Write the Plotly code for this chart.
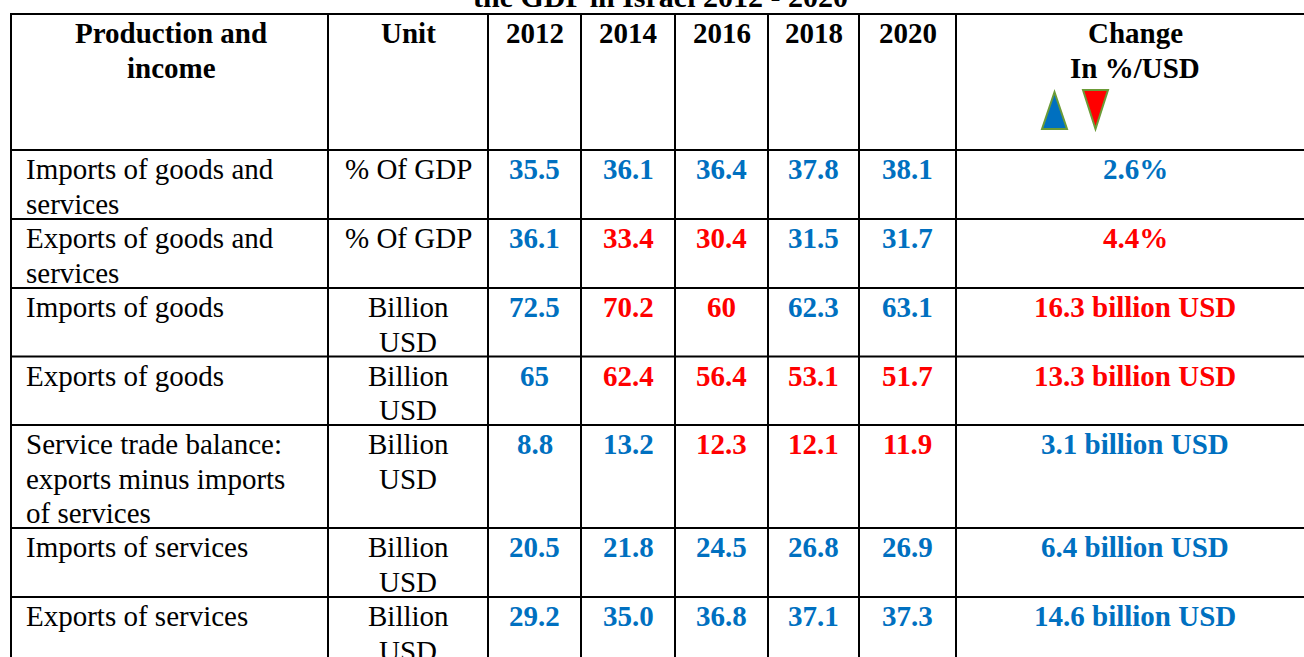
import plotly.graph_objects as go

# ---------------- data ----------------
title_text = "the GDP in Israel 2012 - 2020"
header_first = ["Production and", "income"]
header_unit = ["Unit"]
header_change = ["Change", "In %/USD"]
years = ["2012", "2014", "2016", "2018", "2020"]

row_labels = [
    ["Imports of goods and", "services"],
    ["Exports of goods and", "services"],
    ["Imports of goods"],
    ["Exports of goods"],
    ["Service trade balance:", "exports minus imports", "of services"],
    ["Imports of services"],
    ["Exports of services"],
]
units = [
    ["% Of GDP"], ["% Of GDP"], ["Billion", "USD"], ["Billion", "USD"],
    ["Billion", "USD"], ["Billion", "USD"], ["Billion", "USD"],
]
values_2012 = ["35.5", "36.1", "72.5", "65", "8.8", "20.5", "29.2"]
values_2014 = ["36.1", "33.4", "70.2", "62.4", "13.2", "21.8", "35.0"]
values_2016 = ["36.4", "30.4", "60", "56.4", "12.3", "24.5", "36.8"]
values_2018 = ["37.8", "31.5", "62.3", "53.1", "12.1", "26.8", "37.1"]
values_2020 = ["38.1", "31.7", "63.1", "51.7", "11.9", "26.9", "37.3"]
# direction: 1 = up (blue), -1 = down (red)
dir_2012 = [1, 1, 1, 1, 1, 1, 1]
dir_2014 = [1, -1, -1, -1, 1, 1, 1]
dir_2016 = [1, -1, -1, -1, -1, 1, 1]
dir_2018 = [1, 1, 1, -1, -1, 1, 1]
dir_2020 = [1, 1, 1, -1, -1, 1, 1]
change_text = ["2.6%", "4.4%", "16.3 billion USD", "13.3 billion USD",
               "3.1 billion USD", "6.4 billion USD", "14.6 billion USD"]
change_dir = [1, -1, -1, -1, 1, 1, 1]

year_values = [values_2012, values_2014, values_2016, values_2018, values_2020]
year_dirs = [dir_2012, dir_2014, dir_2016, dir_2018, dir_2020]

# ---------------- layout constants ----------------
W, H = 1304, 657
col_x = [11, 328, 488, 581, 675, 768, 859, 956, 1316]
row_y = [14, 150, 219, 288, 356.5, 425, 528, 597, 666]
LINE_H = 34.5
FIRST_OFF = 19
FONT = "Liberation Serif"
FS = 29
BLUE = "#0070C0"
RED = "#FF0000"
BLACK = "#000000"
def colr(d):
    return BLUE if d > 0 else RED

fig = go.Figure()
# invisible trace to establish axes
fig.add_trace(go.Scatter(x=[0, W], y=[0, H], mode="markers",
                         marker=dict(opacity=0), hoverinfo="skip", showlegend=False))

shapes = []
for x in col_x:
    shapes.append(dict(type="line", x0=x, x1=x, y0=row_y[0], y1=row_y[-1],
                       line=dict(color=BLACK, width=2), xref="x", yref="y"))
for y in row_y:
    shapes.append(dict(type="line", x0=col_x[0] - 1, x1=col_x[-1], y0=y, y1=y,
                       line=dict(color=BLACK, width=2), xref="x", yref="y"))
# triangles in header
shapes.append(dict(type="path", path="M 1042,129 L 1054.5,92 L 1067,129 Z",
                   fillcolor=BLUE, line=dict(color="#6B9B37", width=2), xref="x", yref="y"))
shapes.append(dict(type="path", path="M 1083,90 L 1108,90 L 1095.5,129 Z",
                   fillcolor=RED, line=dict(color="#6B9B37", width=2), xref="x", yref="y"))

ann = []
def add_lines(lines, x, top, anchor, color, bold):
    for i, t in enumerate(lines):
        txt = f"<b>{t}</b>" if bold else t
        ann.append(dict(x=x, y=top + FIRST_OFF + LINE_H * i, text=txt, showarrow=False,
                        xanchor=anchor, yanchor="middle", xref="x", yref="y",
                        font=dict(family=FONT, size=FS, color=color)))

def cx(i):
    return (col_x[i] + col_x[i + 1]) / 2

# title (cut off at top of the picture)
ann.append(dict(x=660 / W, y=1 + 4 / H, text=f"<b>{title_text}</b>", showarrow=False,
                xanchor="center", yanchor="middle", xref="paper", yref="paper",
                font=dict(family=FONT, size=30, color=BLACK)))

# header
add_lines(header_first, 171, row_y[0], "center", BLACK, True)
add_lines(header_unit, cx(1), row_y[0], "center", BLACK, True)
for j, yr in enumerate(years):
    add_lines([yr], cx(2 + j), row_y[0], "center", BLACK, True)
add_lines(header_change, 1135, row_y[0], "center", BLACK, True)

# body
for r in range(len(row_labels)):
    top = row_y[r + 1]
    add_lines(row_labels[r], 24, top, "left", BLACK, False)
    add_lines(units[r], cx(1), top, "center", BLACK, False)
    for j in range(len(years)):
        add_lines([year_values[j][r]], cx(2 + j), top, "center", colr(year_dirs[j][r]), True)
    add_lines([change_text[r]], 1135, top, "center", colr(change_dir[r]), True)

fig.update_layout(
    width=W, height=H, margin=dict(l=0, r=0, t=0, b=0),
    paper_bgcolor="white", plot_bgcolor="white",
    xaxis=dict(range=[0, W], visible=False, fixedrange=True),
    yaxis=dict(range=[H, 0], visible=False, fixedrange=True),
    shapes=shapes, annotations=ann, showlegend=False,
)
fig.write_html("out.html", config={"displayModeBar": False, "staticPlot": True},
               post_script="document.body.style.margin='0';")
